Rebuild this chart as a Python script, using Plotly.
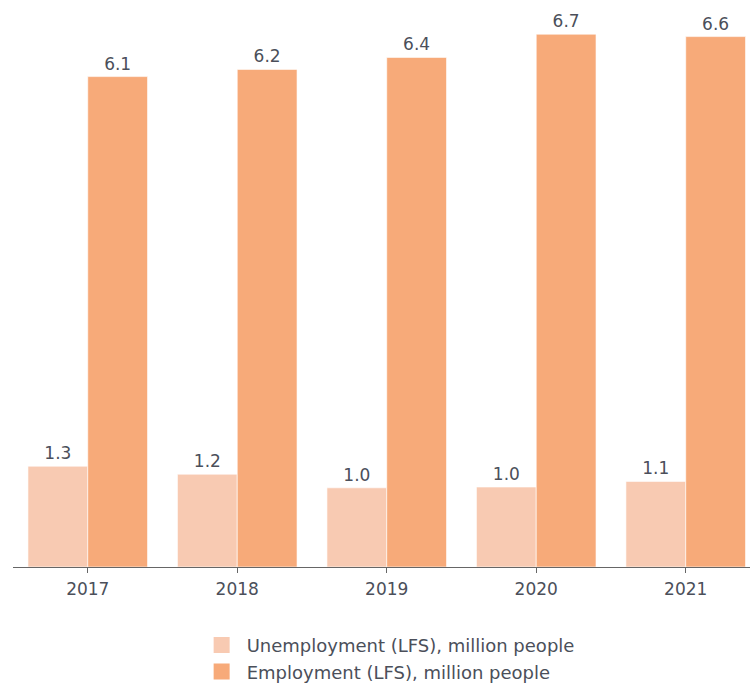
import plotly.graph_objects as go

years = ["2017", "2018", "2019", "2020", "2021"]
unemployment = [1.26, 1.16, 0.99, 1.0, 1.07]
employment = [6.13, 6.22, 6.37, 6.66, 6.63]

names = ["Unemployment (LFS), million people", "Employment (LFS), million people"]
colors = ["#F8CAB2", "#F7AA79"]
text_color = "#4B4F5A"
font_family = "DejaVu Sans, Verdana, sans-serif"

fig = go.Figure()
for vals, name, col in zip([unemployment, employment], names, colors):
    fig.add_trace(go.Bar(
        x=years, y=vals, name=name, showlegend=False,
        marker=dict(color=col, line=dict(color="rgba(255,255,255,0.6)", width=1)),
        texttemplate="%{y:.1f}", textposition="outside", cliponaxis=False,
        textfont=dict(color=text_color, size=17, family=font_family),
    ))
for name, col in zip(names, colors):
    fig.add_trace(go.Scatter(
        x=[None], y=[None], mode="markers", name=name, showlegend=True,
        marker=dict(symbol="square", size=16, color=col),
    ))

fig.update_layout(
    width=750, height=688,
    margin=dict(l=13, r=0, t=7, b=121, autoexpand=False),
    paper_bgcolor="white", plot_bgcolor="white",
    barmode="group", bargap=0.2, bargroupgap=0,
    font=dict(family=font_family, size=17, color=text_color),
    xaxis=dict(type="category", range=[-0.5, 4.43], showline=True, linecolor="#666666",
               linewidth=1, ticks="outside", ticklen=5, tickcolor="#666666",
               ticklabelstandoff=2,
               showgrid=False, zeroline=False, tickfont=dict(size=17, color=text_color)),
    yaxis=dict(range=[0, 7], visible=False, showgrid=False, zeroline=False),
    legend=dict(orientation="v", x=0.509, xanchor="center", y=-0.107, yanchor="top",
                itemwidth=40,
                font=dict(size=18, color=text_color), traceorder="normal"),
)
fig.write_html("out.html", config={"displayModeBar": False},
               post_script="document.body.style.margin='0';")
